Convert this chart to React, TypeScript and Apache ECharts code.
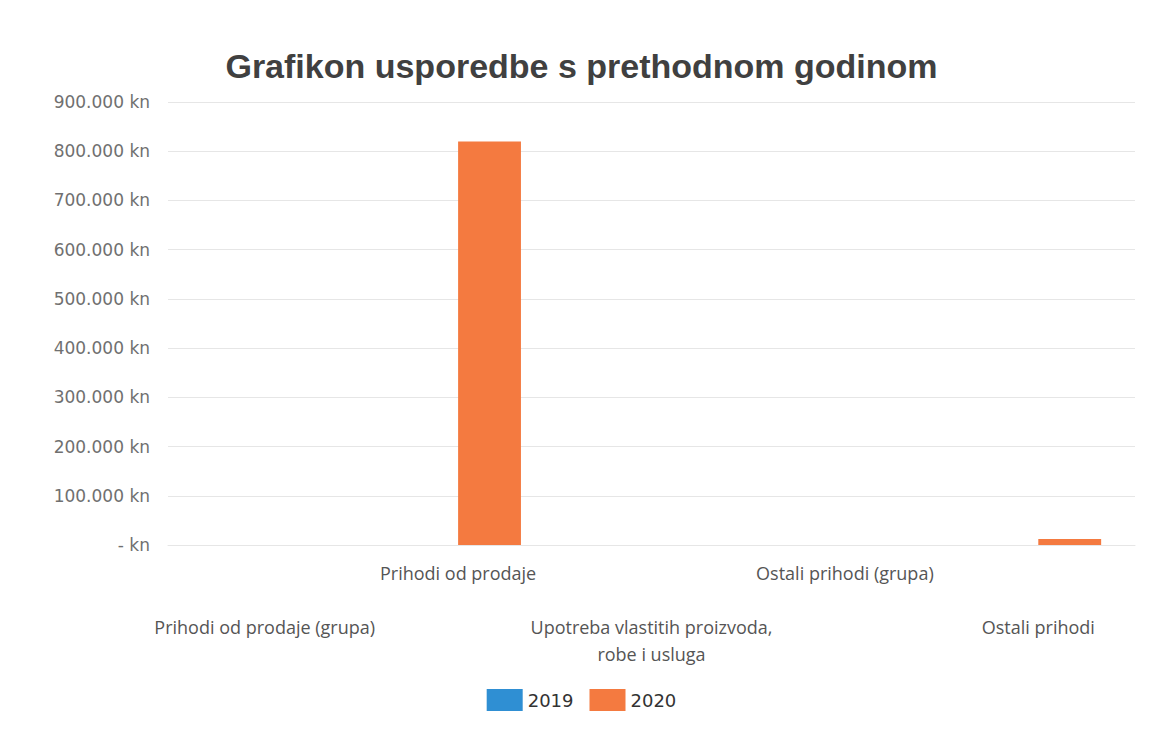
import React, { useEffect, useRef } from "react";
import * as echarts from "echarts";

const categories = [
  "Prihodi od prodaje (grupa)",
  "Prihodi od prodaje",
  "Upotreba vlastitih proizvoda,\nrobe i usluga",
  "Ostali prihodi (grupa)",
  "Ostali prihodi",
];
const values2019 = [0, 0, 0, 0, 0];
const values2020 = [0, 820000, 0, 0, 12000];
const seriesNames = ["2019", "2020"];
const title = "Grafikon usporedbe s prethodnom godinom";

function fmtKn(v: number): string {
  if (v === 0) return "- kn";
  return v.toLocaleString("de-DE") + " kn";
}

export default function App() {
  const ref = useRef<HTMLDivElement>(null);
  useEffect(() => {
    if (!ref.current) return;
    const chart = echarts.init(ref.current, undefined, { renderer: "svg" });
    chart.setOption({
      animation: false,
      backgroundColor: "#ffffff",
      title: {
        text: title,
        left: "center",
        top: 36,
        textStyle: {
          fontFamily: "Liberation Sans, Arial, sans-serif",
          fontSize: 34,
          fontWeight: "bold",
          color: "#404040",
        },
      },
      legend: {
        bottom: 24,
        left: "center",
        itemWidth: 36,
        itemHeight: 22,
        itemGap: 16,
        icon: "rect",
        textStyle: { fontFamily: "DejaVu Sans, sans-serif", fontSize: 18, color: "#333" },
        data: seriesNames,
      },
      grid: { left: 160, right: 20, top: 94, bottom: 195 },
      xAxis: {
        type: "category",
        data: categories,
        axisLine: { show: true, lineStyle: { color: "#e6e6e6" } },
        axisTick: { show: false },
        axisLabel: {
          interval: 0,
          margin: 14,
          fontFamily: "Open Sans, sans-serif",
          fontSize: 18,
          color: "#555",
          lineHeight: 27,
          formatter: (v: string, i: number) => (i % 2 === 0 ? "\n\n" + v : v),
        },
      },
      yAxis: {
        type: "value",
        min: 0,
        max: 900000,
        interval: 100000,
        axisLine: { show: false },
        axisTick: { show: false },
        splitLine: { lineStyle: { color: "#e6e6e6" } },
        axisLabel: {
          fontFamily: "DejaVu Sans, sans-serif",
          fontSize: 17,
          color: "#707070",
          margin: 18,
          formatter: (v: number) => fmtKn(v),
        },
      },
      series: [
        {
          name: seriesNames[0],
          type: "bar",
          data: values2019,
          itemStyle: { color: "#2f8fd3" },
          barCategoryGap: "35%",
          barGap: "0%",
        },
        {
          name: seriesNames[1],
          type: "bar",
          data: values2020,
          itemStyle: { color: "#f47a40" },
          barCategoryGap: "35%",
          barGap: "0%",
        },
      ],
    });
    return () => chart.dispose();
  }, []);
  return <div ref={ref} style={{ width: 1147, height: 732 }} />;
}
